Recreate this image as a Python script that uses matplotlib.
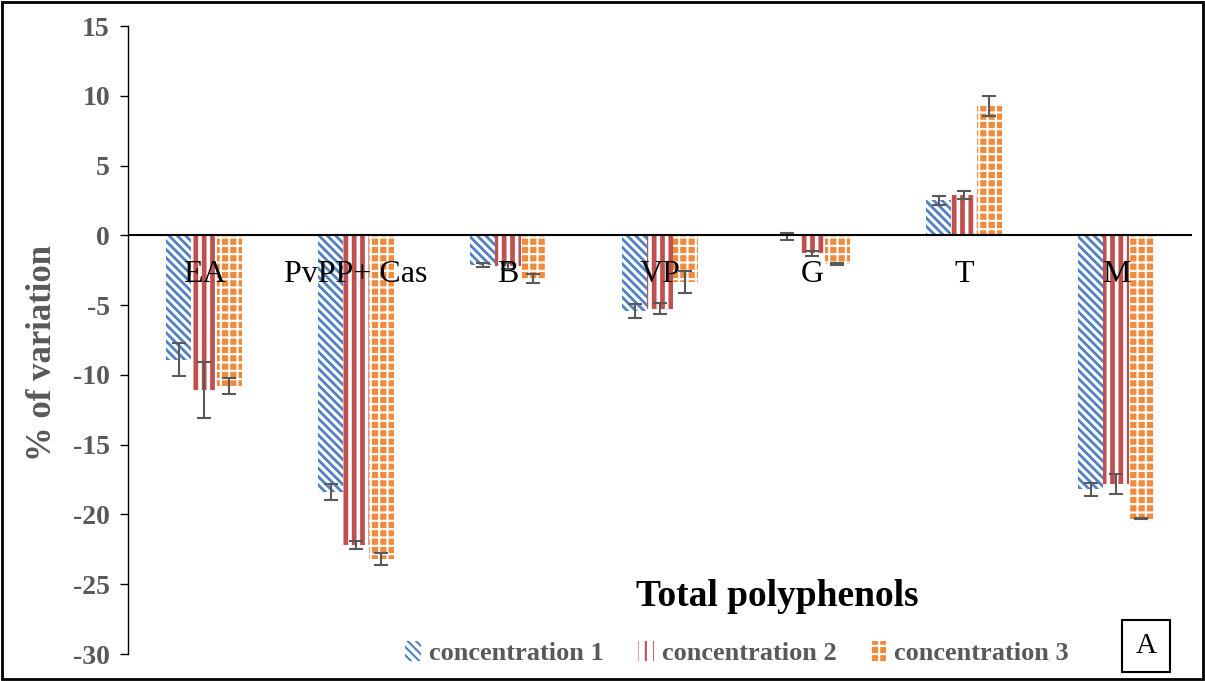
import matplotlib.pyplot as plt
import numpy as np
from matplotlib.patches import Rectangle

categories = ["EA", "PvPP+ Cas", "B", "VP", "G", "T", "M"]
series_names = ["concentration 1", "concentration 2", "concentration 3"]
conc1 = [-8.9, -18.4, -2.1, -5.4, -0.05, 2.5, -18.2]
conc2 = [-11.1, -22.2, -2.2, -5.25, -1.3, 2.9, -17.8]
conc3 = [-10.8, -23.2, -3.1, -3.35, -2.05, 9.25, -20.3]
err1 = [1.15, 0.55, 0.15, 0.5, 0.25, 0.3, 0.45]
err2 = [2.0, 0.3, 0.2, 0.4, 0.2, 0.3, 0.7]
err3 = [0.6, 0.45, 0.35, 0.8, 0.05, 0.7, 0.05]
yticks = [15, 10, 5, 0, -5, -10, -15, -20, -25, -30]

plt.rcParams['font.family'] = ['Liberation Serif', 'DejaVu Serif']

gray = '#595959'
fig = plt.figure(figsize=(12.05, 6.81), dpi=100)
ax = fig.add_axes([128/1205, 1-654/681, 1064/1205, 628/681])

x = np.arange(len(categories))
w = 0.166
styles = [
    dict(facecolor='white', edgecolor='#4F81C4', hatch='\\\\\\\\'),
    dict(facecolor='white', edgecolor='#C0504D', hatch='||'),
    dict(facecolor='#F08A3C', edgecolor='white', hatch='++'),
]
hlw = [2.0, 3.4, 1.5]
vals = [conc1, conc2, conc3]
errs = [err1, err2, err3]
handles = []
for i in range(3):
    plt.rcParams['hatch.linewidth'] = hlw[i]
    bars = ax.bar(x + (i-1)*w, vals[i], w, linewidth=0, label=series_names[i], **styles[i])
    for b in bars:
        if hasattr(b, 'set_hatch_linewidth'):
            b.set_hatch_linewidth(hlw[i])
    ax.errorbar(x + (i-1)*w, vals[i], yerr=errs[i], fmt='none', ecolor=gray,
                elinewidth=1.5, capsize=5, capthick=1.5)
    handles.append(bars)

ax.axhline(0, color='black', lw=1.5)
ax.set_xlim(-0.5, len(categories)-0.5)
ax.set_ylim(-30, 15)
ax.set_yticks(yticks)
ax.set_yticklabels([str(t) for t in yticks], fontsize=20, fontweight='bold', color=gray)
ax.tick_params(axis='y', direction='out', length=6, width=1, pad=7)
ax.set_xticks([])
for s in ['top', 'right', 'bottom']:
    ax.spines[s].set_visible(False)
ax.spines['left'].set_linewidth(1)

for xi, lab in zip(x, categories):
    ax.text(xi, -2.8, lab, ha='center', va='center', fontsize=23, color='black')

ax.set_ylabel('% of variation', fontsize=25, fontweight='bold', color=gray)
ax.yaxis.set_label_coords(-0.065, 0.479)

fig.text(777/1205, 1-597/681, 'Total polyphenols', ha='center', va='center',
         fontsize=27, fontweight='bold', color='black')

fig.legend(handles=handles, labels=series_names, loc='center', ncol=3,
           bbox_to_anchor=(737/1205, 1-653/681), frameon=False,
           prop={'size': 19, 'weight': 'bold'}, handlelength=0.6, handleheight=0.8,
           handletextpad=0.3, columnspacing=1.3, labelcolor=gray)

fig.text(1146/1205, 1-646/681, 'A', ha='center', va='center', fontsize=21,
         bbox=dict(boxstyle='square,pad=0.45', facecolor='white', edgecolor='black', lw=1.5))

fig.patches.append(Rectangle((0.002, 0.003), 0.996, 0.994, transform=fig.transFigure,
                             fill=False, edgecolor='black', lw=2))

fig.savefig('out.png', dpi=100)
